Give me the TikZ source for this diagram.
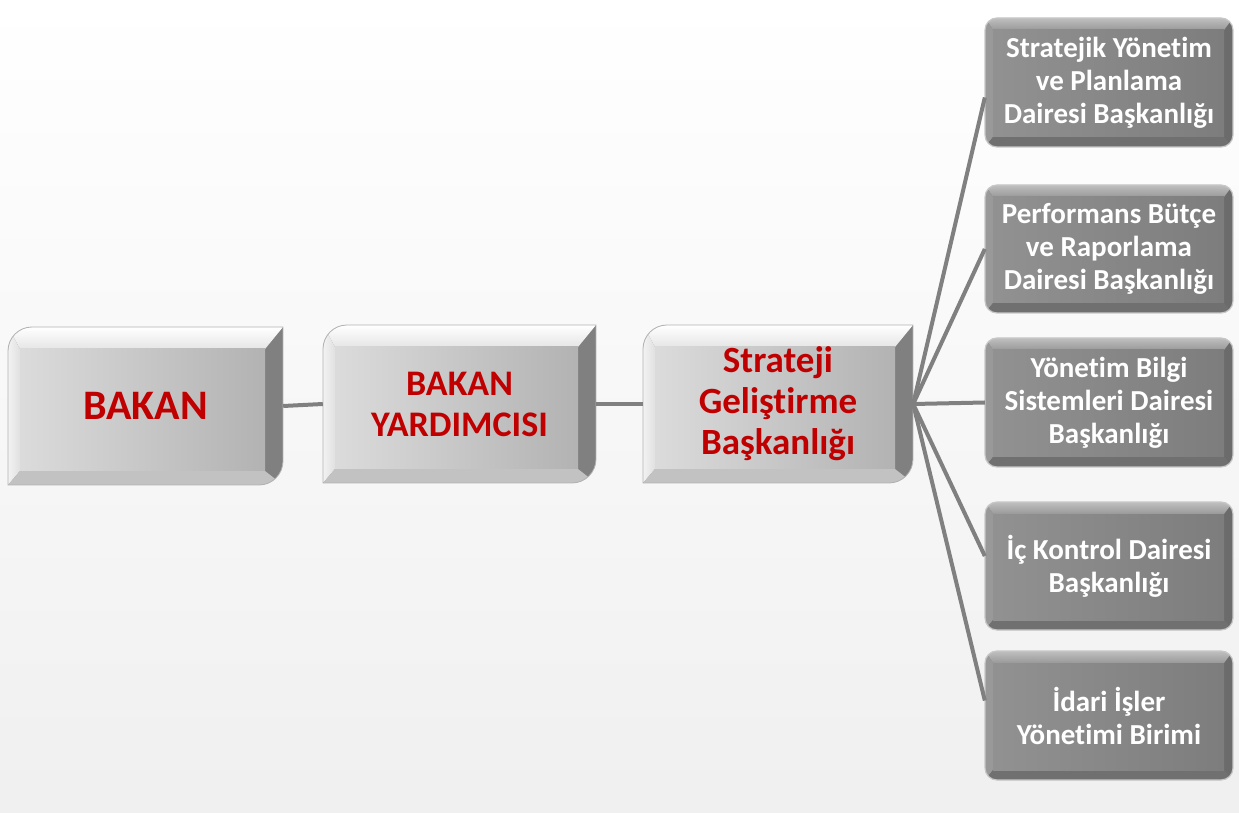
\documentclass[tikz,border=0pt]{standalone}
\usepackage{fontspec}
\setmainfont{Carlito}[Ligatures=NoCommon]
\definecolor{redtxt}{RGB}{192,0,0}
\tikzset{
  redlabel/.style={text=redtxt, font=\bfseries\fontsize{36}{41}\selectfont, align=center, inner sep=0pt},
  whitelabel/.style={text=white, font=\bfseries\fontsize{29}{33}\selectfont, align=center, inner sep=0pt},
  link/.style={draw=black!50, line width=4pt}
}
% silver box: name, x1, y1(bottom), x2, y2(top), text, font size
\newcommand{\silverbox}[7]{%
  \begin{scope}
    \clip (#2,#3) -- (#2,#5-24) arc[start angle=180,end angle=90,radius=24] -- (#4,#5) -- (#4,#3+24) arc[start angle=0,end angle=-90,radius=24] -- cycle;
    \fill[black!50] (#2,#3) rectangle (#4,#5);
    \shade[top color=white, bottom color=black!10] (#2,#5) -- (#4,#5) -- (#4-18,#5-22) -- (#2+12,#5-22) -- cycle;
    \shade[left color=black!5, right color=black!12] (#2,#3) -- (#2,#5) -- (#2+12,#5-22) -- (#2+12,#3+14) -- cycle;
    \fill[black!24] (#2,#3) -- (#4,#3) -- (#4-18,#3+14) -- (#2+12,#3+14) -- cycle;
    \shade[left color=black!14, right color=black!30] (#2+12,#3+14) rectangle (#4-18,#5-22);
  \end{scope}
  \draw[black!30, line width=0.8pt] (#2,#3) -- (#2,#5-24) arc[start angle=180,end angle=90,radius=24] -- (#4,#5) -- (#4,#3+24) arc[start angle=0,end angle=-90,radius=24] -- cycle;
  \node[redlabel, font=\bfseries\fontsize{#7}{41}\selectfont, minimum width=#4-#2, minimum height=#5-#3] (#1) at ({(#2+#4)/2},{(#3+#5)/2}) {#6};
}
% dark box: name, x1, y1(bottom), x2, y2(top), text
\newcommand{\darkbox}[6]{%
  \begin{scope}
    \clip[rounded corners=12] (#2,#3) rectangle (#4,#5);
    \fill[black!58] (#2,#3) rectangle (#4,#5);
    \shade[top color=black!25, bottom color=black!40] (#2,#5) -- (#4,#5) -- (#4-9,#5-12) -- (#2+8,#5-12) -- cycle;
    \fill[black!40] (#2,#3) -- (#2,#5) -- (#2+8,#5-12) -- (#2+8,#3+10) -- cycle;
    \fill[black!56] (#2,#3) -- (#4,#3) -- (#4-9,#3+10) -- (#2+8,#3+10) -- cycle;
    \shade[left color=black!43, right color=black!51] (#2+8,#3+10) rectangle (#4-9,#5-12);
  \end{scope}
  \draw[black!22, line width=1.2pt, rounded corners=12] (#2,#3) rectangle (#4,#5);
  \node[whitelabel, minimum width=#4-#2, minimum height=#5-#3] (#1) at ({(#2+#4)/2},{(#3+#5)/2}) {#6};
}
\begin{document}
\begin{tikzpicture}[x=1pt, y=1pt]
  \useasboundingbox (0,0) rectangle (1239,812);
  \shade[top color=white, bottom color=black!6] (0,0) rectangle (1239,812);

  \silverbox{bakan}{8}{327}{283}{485}{BAKAN}{42}
  \silverbox{yard}{323}{329}{596}{487}{BAKAN\\YARDIMCISI}{36}
  \silverbox{sgb}{643}{329}{913}{487}{Strateji\\Geliştirme\\Başkanlığı}{37}

  \darkbox{sy}{985}{665}{1233}{794}{Stratejik Yönetim\\ve Planlama\\Dairesi Başkanlığı}
  \darkbox{pb}{985}{499}{1233}{627}{Performans Bütçe\\ve Raporlama\\Dairesi Başkanlığı}
  \darkbox{ybs}{985}{345}{1233}{474}{Yönetim Bilgi\\Sistemleri Dairesi\\Başkanlığı}
  \darkbox{ik}{985}{182}{1233}{310}{İç Kontrol Dairesi\\Başkanlığı}
  \darkbox{iib}{985}{32}{1233}{161}{İdari İşler\\Yönetimi Birimi}

  \draw[link] (bakan.east) -- (yard.west);
  \draw[link] (yard.east) -- (sgb.west);
  \draw[link] (sgb.east) -- ([yshift=-15pt]sy.west);
  \draw[link] (sgb.east) -- (pb.west);
  \draw[link] (sgb.east) -- (ybs.west);
  \draw[link] (sgb.east) -- ([yshift=10pt]ik.west);
  \draw[link] (sgb.east) -- ([yshift=15pt]iib.west);
\end{tikzpicture}
\end{document}
